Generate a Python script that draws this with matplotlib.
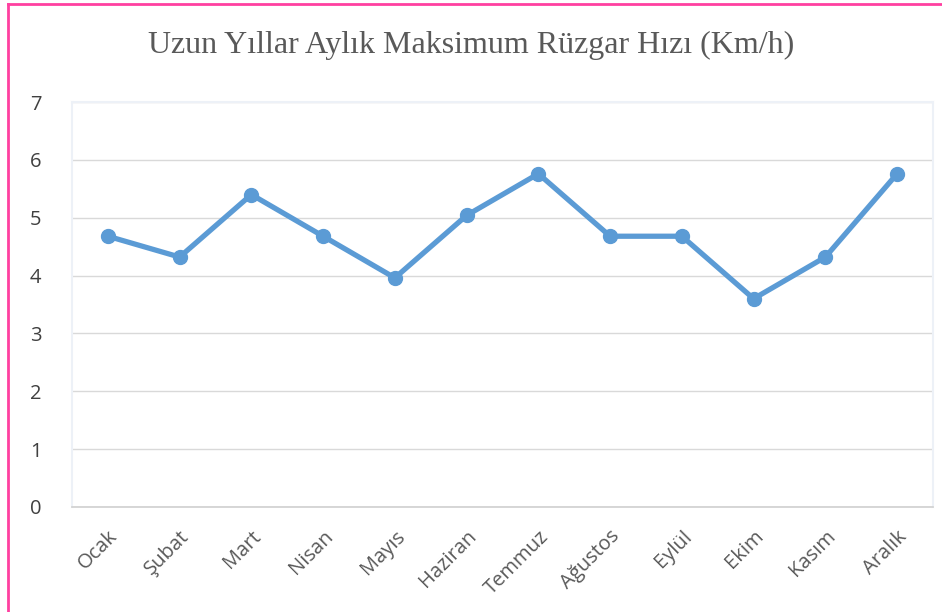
import matplotlib.pyplot as plt
from matplotlib.lines import Line2D

months = ['Ocak', 'Şubat', 'Mart', 'Nisan', 'Mayıs', 'Haziran',
          'Temmuz', 'Ağustos', 'Eylül', 'Ekim', 'Kasım', 'Aralık']
max_wind = [4.68, 4.32, 5.40, 4.68, 3.96, 5.04, 5.76, 4.68, 4.68, 3.60, 4.32, 5.76]
y_ticks = [0, 1, 2, 3, 4, 5, 6, 7]

fig = plt.figure(figsize=(9.42, 6.12), dpi=100)
ax = fig.add_axes([72 / 942, 1 - 507 / 612, 861 / 942, 405 / 612])

ax.plot(range(len(months)), max_wind, color='#5B9BD5', linewidth=3.8,
        marker='o', markersize=10, solid_joinstyle='round', zorder=3)

ax.set_xlim(-0.5, len(months) - 0.5)
ax.set_ylim(0, 7)
ax.set_yticks(y_ticks)
ax.set_xticks(range(len(months)))
ax.set_xticklabels(months, rotation=45, ha='right', rotation_mode='anchor',
                   fontsize=14.5, color='#595959', family='Open Sans')
for lbl in ax.get_yticklabels():
    lbl.set_fontsize(14.5)
    lbl.set_color('#404040')
    lbl.set_family('Open Sans')
ax.tick_params(axis='both', length=0)
ax.tick_params(axis='y', pad=22)
ax.tick_params(axis='x', pad=14)

ax.grid(axis='y', color='#D9D9D9', linewidth=1)
ax.set_axisbelow(True)
for side in ['top', 'left', 'right']:
    ax.spines[side].set_color('#EDF1F7')
    ax.spines[side].set_linewidth(1.5)
ax.spines['bottom'].set_color('#D0D0D0')
ax.spines['bottom'].set_linewidth(1.2)

fig.text(0.5, 1 - 45 / 612, 'Uzun Yıllar Aylık Maksimum Rüzgar Hızı (Km/h)',
         ha='center', va='center', fontsize=23, color='#595959',
         family='Liberation Serif')

# pink frame (top and left edges visible in the crop)
fig.add_artist(Line2D([8 / 942, 1], [1 - 4 / 612, 1 - 4 / 612],
                      transform=fig.transFigure, color='#FF40A0', linewidth=2))
fig.add_artist(Line2D([8 / 942, 8 / 942], [0, 1 - 4 / 612],
                      transform=fig.transFigure, color='#FF40A0', linewidth=2))

fig.savefig('out.png', dpi=100)
